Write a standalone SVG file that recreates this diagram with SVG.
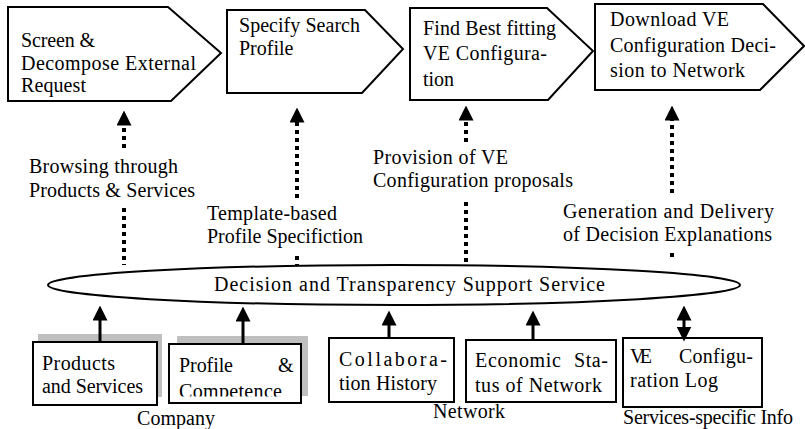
<svg xmlns="http://www.w3.org/2000/svg" width="805" height="429" viewBox="0 0 805 429" font-family="'Liberation Serif', 'DejaVu Serif', 'Times New Roman', serif">
<style>
  .shape { fill: #ffffff; stroke: #000000; stroke-width: 2; }
  .shadow { fill: #bfbfbf; stroke: none; }
  .t { font-family: 'Liberation Serif', 'DejaVu Serif', 'Times New Roman', serif; font-size: 20px; fill: #000000; }
  .dot { fill: none; stroke: #000000; stroke-width: 4; stroke-dasharray: 4 4; }
  .solid { fill: none; stroke: #000000; stroke-width: 3; }
</style>
<defs>
  <marker id="ah" markerUnits="userSpaceOnUse" markerWidth="15" markerHeight="15" viewBox="0 0 15 15" refX="0.5" refY="7.5" orient="auto-start-reverse">
    <path d="M0,0 L15,7.5 L0,15 z" fill="#000000"/>
  </marker>
  <clipPath id="clipComp"><rect x="170" y="345" width="130" height="51.5"/></clipPath>
</defs>
<rect width="805" height="429" fill="#ffffff"/>

<g id="step1">
  <polygon class="shape" points="8,7 168,7 221,53 171,101 8,101"/>
  <text class="t" x="21" y="47" textLength="74">Screen &amp;</text>
  <text class="t" x="21" y="70" textLength="175">Decompose External</text>
  <text class="t" x="21" y="92" textLength="65">Request</text>
</g>
<g id="step2">
  <polygon class="shape" points="227,10 365,10 403,49 362,93 227,93"/>
  <text class="t" x="239" y="32" textLength="121">Specify Search</text>
  <text class="t" x="239" y="55">Profile</text>
</g>
<g id="step3">
  <polygon class="shape" points="410,8 547,8 593,51 548,100 410,100"/>
  <text class="t" x="423" y="35" textLength="133">Find Best fitting</text>
  <text class="t" x="423" y="60" textLength="124">VE Configura-</text>
  <text class="t" x="423" y="86">tion</text>
</g>
<g id="step4">
  <polygon class="shape" points="595,4 763,4 804,46 760,90 595,90"/>
  <text class="t" x="610" y="26" textLength="119">Download VE</text>
  <text class="t" x="610" y="52" textLength="166">Configuration Deci-</text>
  <text class="t" x="610" y="77" textLength="135">sion to Network</text>
</g>

<g id="dtss">
  <ellipse class="shape" cx="394" cy="285" rx="346" ry="20"/>
  <text class="t" x="214" y="291" textLength="391">Decision and Transparency Support Service</text>
</g>

<g id="products">
  <rect class="shadow" x="38" y="334" width="124" height="63"/>
  <rect class="shape" x="33" y="342" width="124" height="63"/>
  <text class="t" x="42" y="370" textLength="73">Products</text>
  <text class="t" x="42" y="393" textLength="101">and Services</text>
</g>
<g id="profile">
  <rect class="shadow" x="177" y="336" width="131" height="60"/>
  <rect class="shape" x="169" y="344" width="132" height="59"/>
  <text class="t" x="179" y="372" textLength="54">Profile</text>
  <text class="t" x="278" y="372">&amp;</text>
  <text class="t" x="179" y="398" textLength="103" clip-path="url(#clipComp)">Competence</text>
</g>
<g id="collab">
  <rect class="shape" x="329" y="338" width="125" height="64"/>
  <text class="t" x="339" y="366" textLength="108">Collabora-</text>
  <text class="t" x="339" y="390" textLength="98">tion History</text>
</g>
<g id="economic">
  <rect class="shape" x="466" y="340" width="150" height="62"/>
  <text class="t" x="475" y="367" textLength="86">Economic</text>
  <text class="t" x="574" y="367" textLength="34">Sta-</text>
  <text class="t" x="475" y="392" textLength="127">tus of Network</text>
</g>
<g id="velog">
  <rect class="shape" x="623" y="338" width="139" height="69"/>
  <text class="t" x="630" y="363" textLength="22">VE</text>
  <text class="t" x="679" y="363" textLength="74">Configu-</text>
  <text class="t" x="630" y="387" textLength="88">ration Log</text>
</g>

<g id="labels">
  <text class="t" x="29" y="173" textLength="149">Browsing through</text>
  <text class="t" x="29" y="197" textLength="166">Products &amp; Services</text>
  <text class="t" x="207" y="220" textLength="130">Template-based</text>
  <text class="t" x="207" y="243" textLength="156">Profile Specifiction</text>
  <text class="t" x="373" y="164" textLength="135">Provision of VE</text>
  <text class="t" x="373" y="187" textLength="200">Configuration proposals</text>
  <text class="t" x="563" y="218" textLength="211">Generation and Delivery</text>
  <text class="t" x="563" y="241" textLength="209">of Decision Explanations</text>
  <text class="t" x="137" y="425" textLength="78">Company</text>
  <text class="t" x="433" y="418" textLength="72">Network</text>
  <text class="t" x="623" y="424" textLength="170">Services-specific Info</text>
</g>

<g id="connectors">
  <path class="dot" d="M124,148 L124,125" marker-end="url(#ah)"/>
  <path class="dot" d="M124,208 L124,265"/>
  <path class="dot" d="M297,198 L297,122" marker-end="url(#ah)"/>
  <path class="dot" d="M297,256 L297,265"/>
  <path class="dot" d="M466,142 L466,120" marker-end="url(#ah)"/>
  <path class="dot" d="M466,202 L466,263"/>
  <path class="dot" d="M672,193 L672,120" marker-end="url(#ah)"/>
  <path class="dot" d="M672,253 L672,261"/>
  <path class="solid" d="M100,341 L100,320" marker-end="url(#ah)"/>
  <path class="solid" d="M243,343 L243,321" marker-end="url(#ah)"/>
  <path class="solid" d="M389,338 L389,325" marker-end="url(#ah)"/>
  <path class="solid" d="M533,340 L533,325" marker-end="url(#ah)"/>
  <path class="solid" d="M684,320 L684,327" marker-start="url(#ah)" marker-end="url(#ah)"/>
</g>
</svg>
